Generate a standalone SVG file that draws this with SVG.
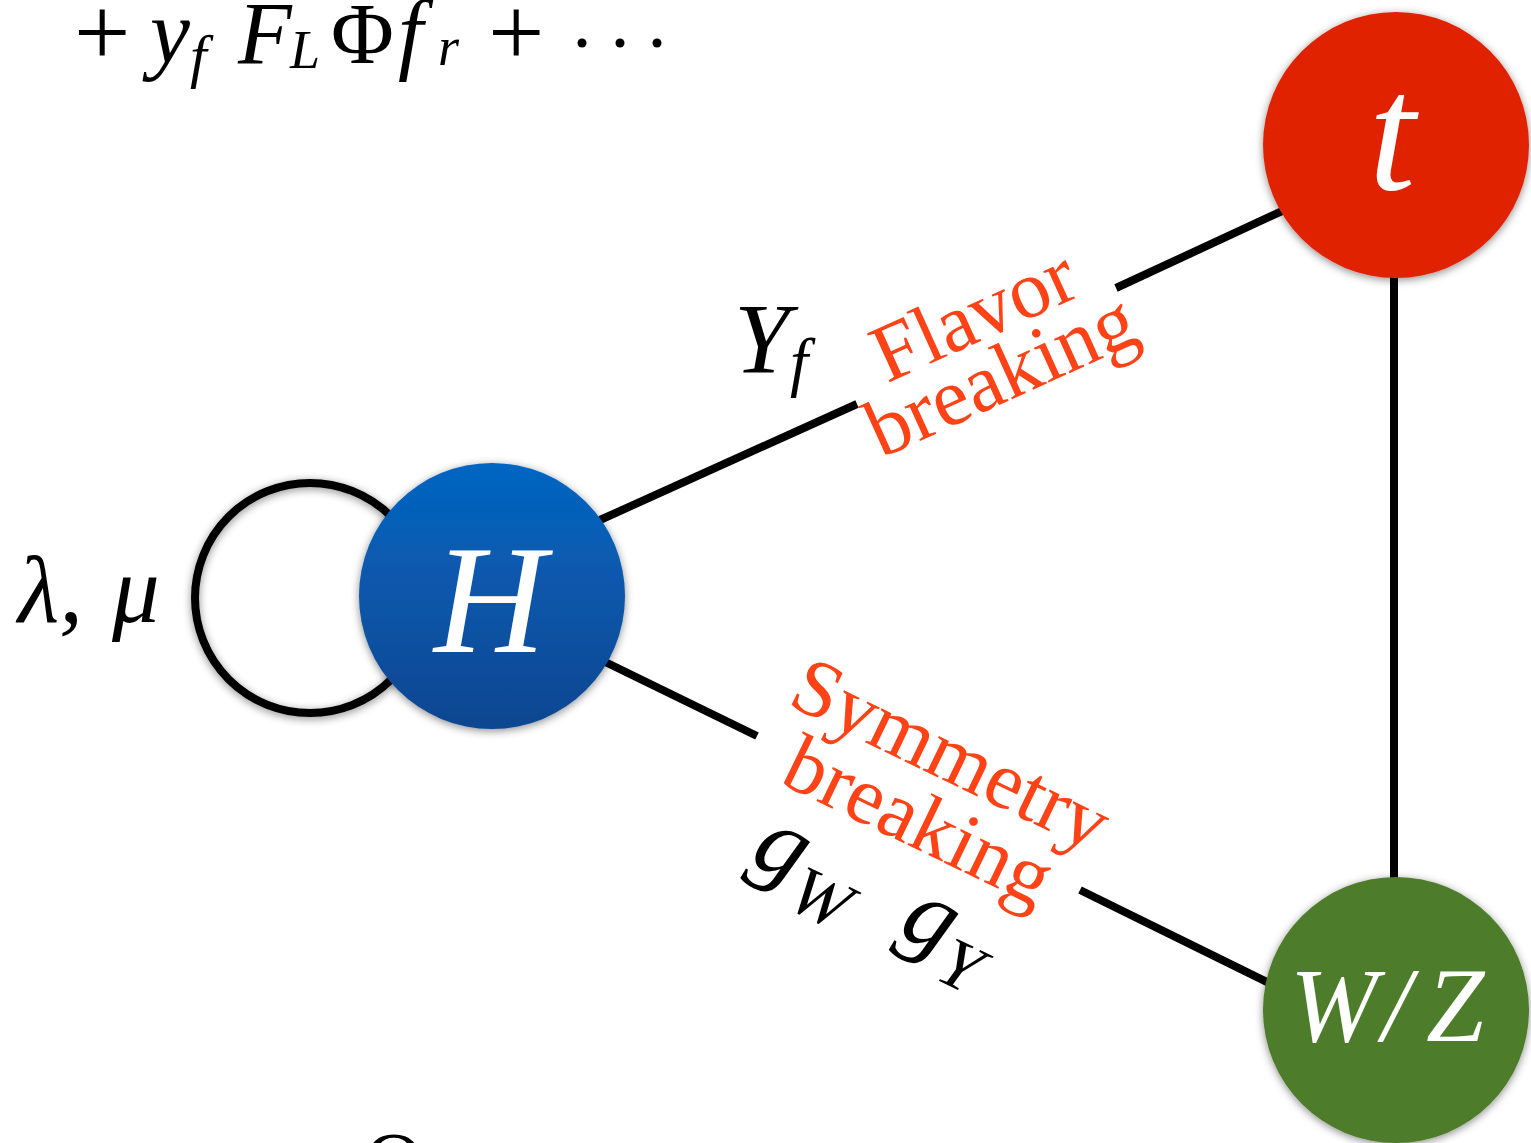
<svg xmlns="http://www.w3.org/2000/svg" width="1531" height="1143" viewBox="0 0 1531 1143">
<style>
.math{font-family:"Liberation Serif","Times New Roman",serif;font-style:italic;fill:#000}
.up{font-family:"Liberation Serif","Times New Roman",serif;font-style:normal;fill:#000}
.red{font-family:"Liberation Serif","Times New Roman",serif;fill:#ff4317;font-size:82px;text-anchor:middle}
.lbl{font-family:"Liberation Serif","Times New Roman",serif;font-style:italic;fill:#fff}
.conn{stroke:#000;stroke-width:8;fill:none}
</style>
<defs>
<linearGradient id="blue" x1="0" y1="0" x2="0" y2="1">
<stop offset="0" stop-color="#0566c2"/>
<stop offset="1" stop-color="#0b4690"/>
</linearGradient>
<filter id="sh" x="-20%" y="-20%" width="140%" height="140%">
<feDropShadow dx="0" dy="2" stdDeviation="4" flood-color="#000" flood-opacity="0.45"/>
</filter>
</defs>
<rect width="1531" height="1143" fill="#fff"/>

<g id="formula">
<text class="up" x="74" y="66" font-size="100">+</text>
<text class="math" x="150" y="63" font-size="90">y</text>
<text class="math" x="190" y="76" font-size="60">f</text>
<text class="math" x="238" y="63" font-size="88">F</text>
<text class="math" x="290" y="68" font-size="54">L</text>
<text class="up" x="331" y="63" font-size="86">Φ</text>
<text class="math" x="398" y="63" font-size="90">f</text>
<text class="math" x="438" y="65" font-size="54">r</text>
<text class="up" x="488" y="66" font-size="100">+</text>
<circle cx="582" cy="43" r="4.5"/>
<circle cx="620" cy="43" r="4.5"/>
<circle cx="657" cy="43" r="4.5"/>
</g>

<g id="connectors">
<line class="conn" x1="600" y1="520" x2="857" y2="404"/>
<line class="conn" x1="1116" y1="288" x2="1295" y2="205"/>
<line class="conn" x1="595" y1="657" x2="757" y2="736"/>
<line class="conn" x1="1080" y1="890" x2="1275" y2="986"/>
<line class="conn" x1="1394" y1="260" x2="1394" y2="895"/>
<circle class="conn" cx="310" cy="598" r="115" stroke-width="9" filter="url(#sh)"/>
</g>

<g id="node-H">
<circle cx="492" cy="596" r="133" fill="url(#blue)" filter="url(#sh)"/>
<text class="lbl" x="490" y="652" font-size="155" text-anchor="middle">H</text>
</g>

<g id="node-t">
<circle cx="1396" cy="145" r="133" fill="#e02400" filter="url(#sh)"/>
<text class="lbl" x="1392" y="189" font-size="168" text-anchor="middle">t</text>
</g>

<g id="node-WZ">
<circle cx="1396" cy="1010" r="133" fill="#4e7b2a" filter="url(#sh)"/>
<text class="lbl" y="1041" font-size="105"><tspan x="1290">W</tspan><tspan x="1382">/</tspan><tspan x="1426">Z</tspan></text>
</g>

<g id="label-lambda">
<text class="math" y="622" font-size="95"><tspan x="18">λ,</tspan><tspan x="112">μ</tspan></text>
</g>

<g id="label-Yf">
<text class="math" x="734" y="372" font-size="100">Y</text>
<text class="math" x="790" y="384" font-size="65">f</text>
</g>

<g id="label-flavor" transform="translate(888,383) rotate(-24.4)">
<text class="red" x="106" y="0">Flavor</text>
<text class="red" x="106" y="66">breaking</text>
</g>

<g id="label-symmetry" transform="translate(790,706) rotate(25.8)">
<text class="red" x="166" y="0">Symmetry</text>
<text class="red" x="166" y="74">breaking</text>
</g>

<g id="label-g" transform="translate(748,862) rotate(25.8)">
<text class="math" x="0" y="0" font-size="100">g</text>
<text class="math" x="52" y="24" font-size="70">W</text>
<text class="math" x="165" y="0" font-size="100">g</text>
<text class="math" x="217" y="24" font-size="70">Y</text>
</g>

<g id="bottom-glyph">
<text class="up" x="394" y="1188" font-size="80" text-anchor="middle">O</text>
</g>
</svg>
